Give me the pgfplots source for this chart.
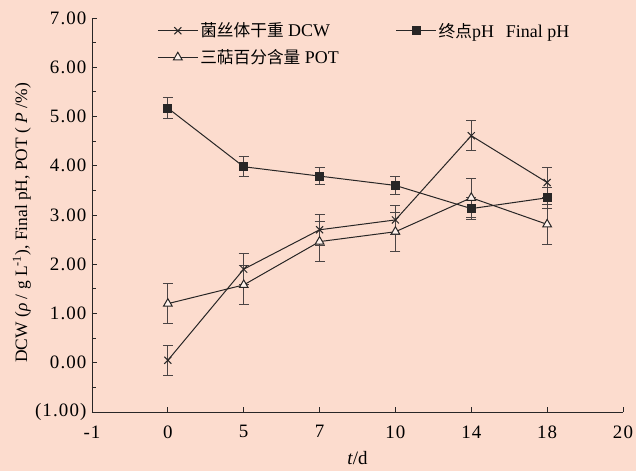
\documentclass[border=0pt]{standalone}
\usepackage{pgfplots}
\pgfplotsset{compat=1.18}
\usepackage{fontspec}
\setmainfont{Liberation Serif}
\newfontfamily\cjk{Noto Sans CJK SC}[Scale=0.93]
\newfontfamily\tickfont{Liberation Serif}[LetterSpace=6]
\definecolor{bg}{RGB}{252,220,206}
\definecolor{ln}{RGB}{40,38,38}
\definecolor{eb}{RGB}{75,68,68}
\pgfplotstableread{
i dcw dcwe ph phe pot pote
1 0.05 0.30 5.17 0.21 1.20 0.40
2 1.90 0.32 3.98 0.20 1.58 0.40
3 2.70 0.31 3.79 0.18 2.46 0.40
4 2.90 0.30 3.60 0.18 2.66 0.40
5 4.61 0.30 3.13 0.23 3.35 0.40
6 3.66 0.31 3.35 0.21 2.81 0.40
}\data
\begin{document}
\begin{tikzpicture}
\path[use as bounding box, fill=bg] (-92bp,-59bp) rectangle (544bp,412bp);
\begin{axis}[
  width=531bp, height=394bp, scale only axis,
  xmin=0, xmax=7, ymin=-1, ymax=7,
  axis x line=bottom, axis y line=left,
  axis line style={-, line width=0.9bp, color=ln},
  xtick={0,...,7}, xticklabels={-1,0,5,7,10,14,18,20},
  ytick={-1,...,7}, yticklabels={(1.00),0.00,1.00,2.00,3.00,4.00,5.00,6.00,7.00},
  minor y tick num=1,
  tick align=inside, major tick length=5bp, minor tick length=4bp,
  tick style={line width=0.8bp, color=ln},
  ticklabel style={font=\tickfont\fontsize{19}{21}\selectfont},
  xticklabel style={yshift=-10bp},
  yticklabel style={xshift=-2bp},
  xlabel={\textit{t}/d},
  xlabel style={font=\fontsize{19}{21}\selectfont, yshift=-6bp},
  ylabel={DCW (\textit{ρ} / g L\textsuperscript{-1}), Final pH, POT ( \textit{P} /\%)},
  every axis y label/.style={at={(axis description cs:-0.132,0.48)}, rotate=90, anchor=center, font=\fontsize{17.5}{19}\selectfont},
  legend columns=2,
  legend cell align=left,
  legend style={at={(axis description cs:0.117,0.998)}, anchor=north west, draw=none, fill=none,
    font=\fontsize{18}{20}\selectfont, /tikz/every even column/.append style={column sep=55bp}, row sep=7bp},
  legend image code/.code={\draw[mark repeat=2,mark phase=2,#1] plot coordinates {(0bp,0bp) (20bp,0bp) (40bp,0bp)};},
  every axis plot/.append style={line width=1bp, color=ln},
  error bars/error bar style={eb, line width=1bp},
  error bars/error mark options={rotate=90, mark size=5bp, eb, line width=1bp},
]
\addplot[mark=x, mark size=5bp, error bars/.cd, y dir=both, y explicit]
  table[x=i, y=dcw, y error=dcwe]{\data};
\addlegendentry{{\cjk 菌丝体干重} DCW}
\addplot[mark=square*, mark size=4bp, mark options={fill=ln}, error bars/.cd, y dir=both, y explicit]
  table[x=i, y=ph, y error=phe]{\data};
\addlegendentry{{\cjk 终点}pH\hspace{12bp}Final pH}
\addplot[mark=triangle*, mark size=5bp, mark options={fill=bg!40!white}, error bars/.cd, y dir=both, y explicit]
  table[x=i, y=pot, y error=pote]{\data};
\addlegendentry{{\cjk 三萜百分含量} POT}
\end{axis}
\end{tikzpicture}
\end{document}
